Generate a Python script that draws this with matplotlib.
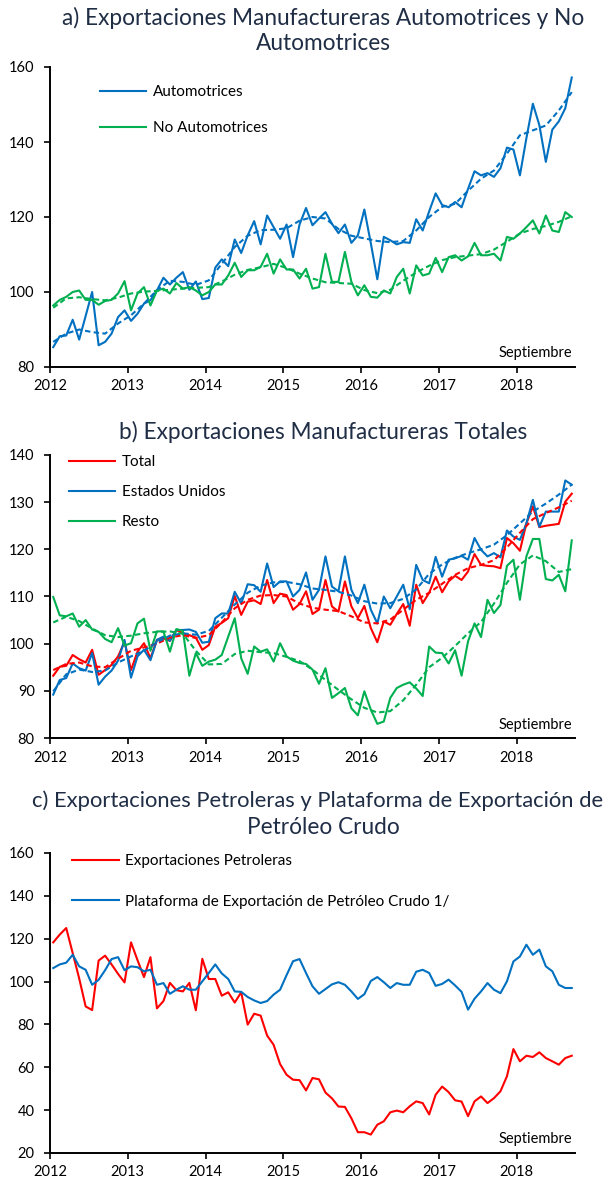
import numpy as np
import pandas as pd
import matplotlib
matplotlib.use("Agg")
import matplotlib.pyplot as plt

plt.rcParams["font.family"] = ["Lato", "DejaVu Sans"]

# monthly data, Jan 2012 - Sep 2018
months = pd.date_range("2012-01-01", "2018-09-01", freq="MS")
years = [2012, 2013, 2014, 2015, 2016, 2017, 2018]

# a) automotive / non automotive manufacturing exports
auto = [85.3, 88.2, 88.4, 92.6, 87.3, 93.6, 100.0, 85.8, 86.7, 88.9,
        93.3, 95.1, 92.3, 94.2, 96.9, 97.8, 100.4, 103.8, 102.0, 103.8,
        105.3, 100.6, 102.8, 98.1, 98.4, 106.5, 108.7, 106.9, 114.0, 110.4,
        115.1, 118.9, 112.7, 120.4, 117.3, 114.2, 118.0, 109.3, 118.0, 122.4,
        117.8, 119.6, 121.3, 118.2, 115.7, 118.0, 113.1, 115.1, 122.0, 113.0,
        103.4, 114.7, 113.8, 112.7, 113.3, 113.1, 119.4, 116.4, 121.5, 126.3,
        123.2, 122.6, 124.0, 122.6, 127.5, 132.2, 131.1, 131.7, 130.7, 133.0,
        138.5, 138.0, 131.1, 141.0, 150.2, 144.5, 134.7, 143.3, 145.5, 149.0,
        157.2]
no_auto = [96.4, 97.9, 98.7, 100.0, 100.4, 97.9, 97.9, 96.6, 97.6, 97.9,
           99.6, 102.9, 95.1, 99.6, 101.3, 96.4, 100.4, 100.9, 99.6, 102.4,
           100.9, 101.3, 100.4, 99.1, 100.0, 102.0, 102.0, 104.4, 107.8, 104.0,
           105.8, 105.8, 106.7, 110.2, 104.9, 108.7, 106.0, 106.0, 103.6, 106.2,
           100.9, 101.3, 110.2, 102.7, 102.7, 110.7, 102.7, 99.1, 101.8, 98.7,
           98.5, 100.4, 99.6, 104.0, 106.2, 99.6, 107.1, 104.4, 104.9, 109.1,
           105.3, 109.3, 109.8, 108.4, 109.5, 113.1, 109.8, 109.8, 110.2, 108.4,
           114.7, 114.2, 115.6, 117.3, 119.1, 115.6, 120.4, 116.4, 116.0, 121.3,
           120.0]
# trends, read every second month
auto_trend = [86.7, 88.9, 90.0, 89.3, 88.9, 91.6, 93.8, 96.9, 100.5, 103.0,
              102.7, 101.9, 103.1, 107.5, 112.0, 115.0, 116.5, 116.6, 117.0, 119.0,
              120.0, 119.6, 116.8, 115.0, 114.3, 113.6, 113.3, 113.6, 116.4, 120.0,
              122.7, 123.5, 127.0, 130.2, 132.4, 136.9, 141.8, 143.1, 144.4, 148.4,
              153.3]
no_auto_trend = [95.8, 98.3, 98.6, 98.1, 97.8, 98.5, 99.6, 100.1, 100.3, 100.6,
                 100.9, 101.1, 101.3, 102.8, 104.6, 105.9, 106.6, 107.5, 106.4, 104.9,
                 103.6, 102.6, 102.4, 102.2, 100.5, 99.7, 100.6, 103.0, 105.2, 107.0,
                 108.5, 109.3, 109.7, 110.1, 111.3, 113.4, 115.6, 116.8, 117.6, 118.7,
                 120.2]

# b) total manufacturing exports
total = [93.2, 95.1, 95.3, 97.6, 96.7, 96.0, 98.7, 93.4, 94.4, 95.5,
         97.3, 100.4, 94.4, 98.3, 100.1, 96.9, 100.8, 101.1, 100.6, 102.9,
         102.2, 101.8, 101.3, 98.7, 99.7, 103.6, 104.4, 105.4, 110.1, 106.1,
         108.9, 109.2, 108.4, 113.5, 108.6, 110.6, 110.3, 107.2, 108.4, 111.1,
         106.3, 107.2, 113.5, 107.9, 106.8, 113.2, 107.9, 105.4, 108.0, 103.3,
         100.3, 104.7, 104.0, 106.3, 108.4, 103.8, 112.5, 108.6, 110.8, 114.2,
         110.9, 113.2, 114.4, 113.5, 115.3, 119.0, 116.7, 116.5, 116.4, 116.0,
         122.4, 121.3, 119.7, 125.5, 129.1, 124.7, 125.0, 125.2, 125.4, 130.1,
         131.8]
usa = [89.2, 92.3, 92.7, 95.8, 94.8, 94.3, 98.0, 91.3, 93.0, 94.3,
       96.4, 100.8, 92.8, 97.3, 98.7, 96.5, 100.8, 101.5, 100.6, 102.9,
       102.9, 103.0, 102.5, 100.2, 100.4, 105.4, 106.4, 106.4, 111.0, 108.5,
       112.6, 112.4, 111.0, 117.0, 112.0, 113.2, 113.2, 110.0, 111.4, 115.1,
       109.3, 111.4, 118.5, 112.1, 111.1, 118.5, 111.4, 108.6, 112.5, 107.2,
       104.3, 110.0, 107.5, 110.0, 112.5, 107.3, 116.7, 113.5, 112.8, 118.4,
       114.2, 117.8, 118.1, 118.6, 117.8, 122.4, 119.9, 118.5, 119.2, 118.3,
       124.0, 122.7, 122.0, 125.5, 130.5, 124.8, 128.0, 128.0, 128.0, 134.6,
       133.7]
resto = [109.9, 106.0, 105.8, 106.4, 103.6, 105.0, 103.0, 102.5, 101.0, 100.3,
         103.3, 99.6, 100.1, 104.3, 105.3, 98.5, 102.6, 102.6, 98.3, 103.1,
         102.7, 93.2, 98.0, 95.3, 96.2, 96.6, 97.6, 101.5, 105.4, 96.9,
         93.6, 99.4, 98.3, 98.8, 96.2, 100.1, 97.3, 96.4, 95.9, 95.7,
         94.5, 91.5, 94.8, 88.5, 89.5, 90.6, 86.3, 84.8, 89.9, 86.0,
         83.0, 83.5, 88.5, 90.6, 91.3, 91.8, 90.5, 88.9, 99.4, 98.1,
         98.0, 95.8, 98.6, 93.2, 100.5, 104.3, 101.4, 109.3, 106.5, 108.2,
         116.5, 117.8, 109.3, 118.5, 122.2, 122.2, 113.7, 113.4, 114.6, 111.1,
         121.9]
total_trend = [94.4, 95.7, 96.0, 95.2, 95.0, 96.8, 98.5, 99.2, 100.0, 101.3,
               101.8, 101.2, 101.8, 104.5, 107.5, 109.3, 110.2, 110.3, 110.0, 108.5,
               107.6, 107.2, 106.9, 105.8, 104.5, 104.3, 105.1, 107.2, 109.3, 110.8,
               112.7, 114.6, 116.0, 116.7, 117.7, 120.4, 123.5, 126.4, 127.7, 128.9,
               130.3]
usa_trend = [89.9, 93.5, 94.5, 94.0, 94.3, 96.0, 97.3, 98.5, 100.3, 101.7,
             102.2, 101.9, 102.7, 105.5, 108.3, 110.8, 112.3, 113.0, 113.1, 112.6,
             111.7, 111.4, 111.0, 110.2, 109.0, 108.5, 108.6, 109.5, 111.5, 114.8,
             116.8, 118.2, 119.2, 120.0, 121.0, 123.0, 125.5, 128.0, 129.7, 131.6,
             133.7]
resto_trend = [104.5, 105.7, 104.8, 103.2, 101.8, 101.4, 101.7, 102.2, 102.5, 102.6,
               102.1, 98.5, 95.6, 95.7, 97.8, 98.5, 98.2, 98.0, 97.2, 96.3,
               94.5, 92.3, 90.2, 88.2, 86.4, 85.4, 85.7, 88.0, 91.3, 95.0,
               97.0, 99.5, 102.2, 104.6, 108.5, 112.9, 116.8, 118.7, 117.5, 115.2,
               115.8]

# c) oil exports and crude oil export platform
petro = [118.3, 121.9, 125.0, 113.3, 101.5, 88.4, 86.7, 109.8, 112.1, 108.0,
         103.6, 99.6, 118.3, 110.0, 102.1, 111.4, 87.5, 90.9, 99.4, 96.0,
         95.4, 99.4, 86.6, 110.6, 101.2, 101.2, 93.4, 95.0, 90.2, 95.0,
         79.9, 85.0, 84.1, 74.8, 70.5, 61.5, 56.5, 54.2, 54.0, 49.2,
         55.0, 54.4, 48.2, 45.5, 41.7, 41.5, 36.2, 29.7, 29.7, 28.6,
         33.2, 34.8, 39.0, 39.8, 39.0, 41.8, 44.1, 43.3, 38.0, 47.2,
         51.0, 48.4, 44.6, 44.0, 37.2, 44.1, 46.4, 43.3, 45.6, 48.8,
         55.8, 68.5, 62.8, 65.4, 64.8, 67.0, 64.3, 62.8, 61.2, 64.3,
         65.4]
plat = [106.3, 108.0, 108.8, 112.5, 107.1, 105.5, 98.5, 100.8, 105.3, 110.5,
        111.4, 105.3, 107.1, 106.7, 104.8, 105.5, 98.5, 99.3, 94.3, 96.2,
        97.8, 96.2, 96.2, 100.1, 104.0, 108.0, 103.8, 101.2, 95.4, 95.2,
        92.8, 91.2, 90.0, 90.9, 93.9, 96.2, 103.0, 109.5, 110.5, 104.0,
        97.8, 94.3, 96.5, 98.7, 99.7, 98.5, 95.4, 91.9, 94.1, 100.3,
        102.1, 99.7, 97.0, 99.3, 98.5, 98.5, 104.6, 105.5, 104.0, 98.0,
        98.9, 100.9, 98.2, 95.2, 86.9, 92.0, 95.4, 99.3, 96.2, 94.6,
        100.1, 109.4, 111.7, 117.2, 112.5, 114.9, 107.1, 104.8, 98.5, 97.0,
        97.0]

BLUE = "#0070C0"
GREEN = "#00B050"
RED = "#FF0000"
NAVY = "#1F2D45"

# middle of each month as decimal year
x = months.year + (months.month - 0.5) / 12
x_tr = x[::2]

W, H = 614, 1180
fig = plt.figure(figsize=(W / 100, H / 100), dpi=100)


def make_axes(top, bottom):
    left, right = 50, 575
    return fig.add_axes([left / W, 1 - bottom / H, (right - left) / W, (bottom - top) / H])


def style_axes(ax, ymin, ymax, step):
    ax.set_xlim(2012, 2018 + 9 / 12)
    ax.set_ylim(ymin, ymax)
    ax.set_xticks(years)
    ax.set_xticklabels([str(y) for y in years])
    ax.set_yticks(np.arange(ymin, ymax + 1, step))
    for s in ["top", "right"]:
        ax.spines[s].set_visible(False)
    for s in ["left", "bottom"]:
        ax.spines[s].set_linewidth(1.4)
        ax.spines[s].set_color("black")
    ax.tick_params(axis="both", direction="out", length=4, width=1.2,
                   labelsize=10.5, colors="black")
    ax.tick_params(axis="y", pad=7)
    ax.tick_params(axis="x", pad=5)
    ax.text(0.994, 0.045, "Septiembre", transform=ax.transAxes,
            ha="right", va="center", fontsize=10.5, color="black")


def legend(ax, y_anchor, x_anchor, spacing):
    leg = ax.legend(loc="upper left", bbox_to_anchor=(x_anchor, y_anchor),
                    frameon=False, fontsize=11, handlelength=3.05,
                    handletextpad=0.4, labelspacing=spacing,
                    borderaxespad=0, borderpad=0)
    return leg


def title(y_px, text, size=16.3):
    fig.text(323 / W, 1 - y_px / H, text, ha="center", va="center",
             fontsize=size, color=NAVY)


lw = 1.5
dash = (2.6, 1.6)

# ---- panel a
ax = make_axes(67, 367)
ax.plot(x, auto, color=BLUE, lw=lw, label="Automotrices")
ax.plot(x, no_auto, color=GREEN, lw=lw, label="No Automotrices")
ax.plot(x_tr, auto_trend, color=BLUE, lw=lw, dashes=dash)
ax.plot(x_tr, no_auto_trend, color=GREEN, lw=lw, dashes=dash)
style_axes(ax, 80, 160, 20)
legend(ax, 0.94, 0.095, 1.45)
title(18, "a) Exportaciones Manufactureras Automotrices y No")
title(44, "Automotrices")

# ---- panel b
ax = make_axes(455, 738)
ax.plot(x, total, color=RED, lw=lw, label="Total")
ax.plot(x, usa, color=BLUE, lw=lw, label="Estados Unidos")
ax.plot(x, resto, color=GREEN, lw=lw, label="Resto")
ax.plot(x_tr, total_trend, color=RED, lw=lw, dashes=dash)
ax.plot(x_tr, usa_trend, color=BLUE, lw=lw, dashes=dash)
ax.plot(x_tr, resto_trend, color=GREEN, lw=lw, dashes=dash)
style_axes(ax, 80, 140, 10)
legend(ax, 1.0, 0.036, 1.06)
title(432, "b) Exportaciones Manufactureras Totales")

# ---- panel c
ax = make_axes(853, 1153)
ax.plot(x, petro, color=RED, lw=lw, label="Exportaciones Petroleras")
ax.plot(x, plat, color=BLUE, lw=lw, label="Plataforma de Exportación de Petróleo Crudo 1/")
style_axes(ax, 20, 160, 20)
legend(ax, 0.995, 0.042, 1.71)
fig.text(318 / W, 1 - 801 / H,
         "c) Exportaciones Petroleras y Plataforma de Exportación de",
         ha="center", va="center", fontsize=15.8, color=NAVY)
title(827, "Petróleo Crudo")

fig.savefig("out.png", dpi=100)
